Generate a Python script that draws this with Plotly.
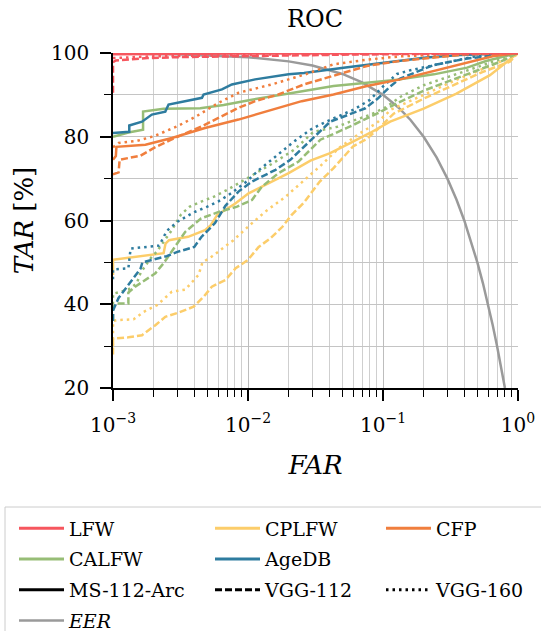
import plotly.graph_objects as go

# ---------------- data ----------------
# LFW
lfw_arc_far = [1e-3, 3e-3, 1e-2, 1]
lfw_arc_tar = [99.7, 99.8, 99.9, 100]
lfw_v112_far = [1e-3, 1e-3, 1.05e-3, 1.3e-3, 1.8e-3, 3e-3, 1e-2, 5e-2, 1]
lfw_v112_tar = [90.5, 97.8, 98.2, 98.5, 98.8, 99.0, 99.3, 99.6, 100]
lfw_v160_far = [1e-3, 2e-3, 5e-3, 2e-2, 1]
lfw_v160_tar = [98.8, 99.2, 99.4, 99.7, 100]

# CPLFW
cplfw_arc_far = [1e-3, 1e-3, 2.37e-3, 2.45e-3, 2.6e-3, 3.6e-3, 4.8e-3, 5.3e-3, 5.9e-3, 8.1e-3,
                 1.01e-2, 1.42e-2, 2.0e-2, 2.9e-2, 4.06e-2, 5.7e-2, 8.0e-2, 0.113, 0.2, 0.35, 0.62, 1]
cplfw_arc_tar = [47, 50.6, 52.2, 54.5, 55.3, 56.1, 57.7, 58.9, 61.3, 64.1,
                 66.5, 68.9, 71.3, 74.3, 76.1, 78.5, 80.9, 83.6, 86.7, 90.3, 94.7, 100]
cplfw_v112_far = [1e-3, 1e-3, 1.3e-3, 1.64e-3, 2.06e-3, 2.44e-3, 3.06e-3, 3.95e-3, 4.7e-3, 5.4e-3,
                  6.8e-3, 8.1e-3, 1.0e-2, 1.2e-2, 1.46e-2, 1.8e-2, 2.1e-2, 2.6e-2, 3.4e-2, 4.3e-2,
                  6.0e-2, 7.6e-2, 9.5e-2, 0.12, 0.2, 0.35, 0.55, 0.87, 1]
cplfw_v112_tar = [28, 31.8, 32.1, 32.6, 35.0, 37.0, 38.0, 39.4, 41.8, 44.2,
                  45.8, 48.6, 50.6, 53.7, 55.7, 58.5, 61.3, 64.3, 69.3, 72.5,
                  77.7, 79.5, 82.3, 85.5, 89.1, 92.7, 95.5, 97.9, 100]
cplfw_v160_far = [1e-3, 1e-3, 1.07e-3, 1.42e-3, 1.69e-3, 2.12e-3, 2.73e-3, 3.43e-3, 4.3e-3, 4.6e-3,
                  5.4e-3, 7.8e-3, 1.0e-2, 1.34e-2, 1.9e-2, 2.4e-2, 3.4e-2, 4.8e-2, 6.8e-2, 9e-2,
                  0.115, 0.2, 0.35, 0.53, 0.79, 1]
cplfw_v160_tar = [30, 36.0, 36.2, 36.4, 38.2, 39.8, 43.0, 43.5, 47.0, 50.0,
                  51.4, 55.3, 58.5, 62.1, 65.7, 68.5, 72.9, 77.5, 80.9, 83.3,
                  86.5, 90.0, 93.6, 96.0, 98.3, 100]

# CFP
cfp_arc_far = [1e-3, 1.05e-3, 1.06e-3, 1.74e-3, 2.73e-3, 4.8e-3, 8.5e-3, 1.5e-2, 2.5e-2,
               4.3e-2, 7.6e-2, 0.134, 0.238, 0.42, 0.66, 1]
cfp_arc_tar = [74.5, 75.4, 77.6, 78.1, 79.7, 82.1, 84.1, 86.5, 88.5,
               90.1, 92.1, 93.7, 95.7, 97.7, 99.3, 100]
cfp_v112_far = [1e-3, 1.1e-3, 1.12e-3, 1.6e-3, 2e-3, 2.7e-3, 4.56e-3, 5.7e-3, 8.5e-3, 1.13e-2,
                1.68e-2, 2.6e-2, 4.3e-2, 7.6e-2, 0.134, 0.238, 0.42, 1]
cfp_v112_tar = [71.0, 71.5, 74.5, 75.5, 77.3, 79.3, 82.5, 84.1, 86.9, 88.5,
                90.1, 92.5, 94.6, 96.9, 98.1, 98.9, 99.7, 100]
cfp_v160_far = [1e-3, 1.1e-3, 1.5e-3, 2e-3, 3e-3, 4.1e-3, 6.06e-3, 8.5e-3, 1.5e-2, 2.66e-2,
                4.3e-2, 7.6e-2, 0.134, 0.3, 1]
cfp_v160_tar = [77.5, 78.5, 79.0, 80.1, 82.5, 84.8, 88.1, 90.5, 92.5, 94.9,
                97.3, 98.4, 99.2, 99.7, 100]

# CALFW
calfw_arc_far = [1e-3, 1.3e-3, 1.67e-3, 1.67e-3, 2.37e-3, 4.43e-3, 6.6e-3, 1.04e-2, 2.06e-2,
                 4.3e-2, 7.6e-2, 0.134, 0.238, 0.42, 0.58, 1]
calfw_arc_tar = [80.0, 81.0, 81.7, 86.0, 86.7, 86.8, 87.6, 88.8, 90.4,
                 92.1, 92.9, 93.7, 94.9, 96.5, 98.1, 100]
calfw_v112_far = [1e-3, 1e-3, 1.1e-3, 1.3e-3, 1.3e-3, 1.46e-3, 2.06e-3, 2.37e-3, 3.43e-3, 4.5e-3,
                  6e-3, 8.3e-3, 1.07e-2, 1.27e-2, 1.68e-2, 2.37e-2, 3.44e-2, 5.4e-2, 9.0e-2, 0.127,
                  0.2, 0.35, 0.5, 0.75, 1]
calfw_v112_tar = [36, 39.5, 40.2, 40.2, 42.8, 44.2, 47.4, 49.8, 57.3, 60.5,
                  62.0, 63.3, 64.9, 68.1, 71.3, 74.1, 79.3, 82.1, 85.5, 88.0,
                  91.0, 94.0, 95.9, 98.0, 100]
calfw_v160_far = [1e-3, 1e-3, 1.3e-3, 1.5e-3, 1.6e-3, 1.9e-3, 2.1e-3, 2.4e-3, 2.7e-3, 3.2e-3,
                  3.7e-3, 4.5e-3, 5.6e-3, 7e-3, 9e-3, 1.13e-2, 1.5e-2, 2.2e-2, 3.06e-2, 4.6e-2,
                  5.7e-2, 8e-2, 0.107, 0.134, 0.2, 0.28, 0.4, 0.55, 1]
calfw_v160_tar = [40, 42.5, 43.5, 45, 47.5, 51, 52.5, 55, 57.5, 61.5,
                  63.3, 64.5, 65.7, 67.3, 69.3, 71.3, 73.5, 76.9, 81.2, 82.4,
                  83.6, 85.2, 87.2, 89.5, 92.3, 93.9, 95.5, 97.1, 100]

# AgeDB
agedb_arc_far = [1e-3, 1.32e-3, 1.32e-3, 1.64e-3, 1.94e-3, 2.44e-3, 2.58e-3, 4.56e-3, 4.69e-3,
                 6.41e-3, 7.6e-3, 1.13e-2, 2.0e-2, 2.6e-2, 5.1e-2, 0.101, 0.21, 0.37, 1]
agedb_arc_tar = [80.9, 81.2, 82.7, 83.6, 85.3, 86.0, 87.7, 89.3, 90.1,
                 91.3, 92.5, 93.7, 94.9, 95.2, 96.5, 97.7, 98.9, 99.5, 100]
agedb_v112_far = [1e-3, 1e-3, 1.1e-3, 1.4e-3, 1.6e-3, 1.65e-3, 2.5e-3, 3e-3, 4e-3, 4.5e-3,
                  5.7e-3, 6.8e-3, 8.5e-3, 1.07e-2, 1.6e-2, 2.06e-2, 3.06e-2, 4.06e-2, 7.4e-2, 9.2e-2,
                  0.113, 0.134, 0.236, 0.42, 1]
agedb_v112_tar = [36, 38.5, 41.5, 46, 48.5, 50, 51.5, 52.5, 53.7, 56,
                  59.4, 63.5, 66.9, 69.3, 72.1, 74.5, 79.7, 83.6, 86.8, 89.2,
                  92, 93.9, 97.1, 98.7, 100]
agedb_v160_far = [1e-3, 1e-3, 1.3e-3, 1.35e-3, 2.2e-3, 2.5e-3, 3e-3, 4e-3, 5e-3, 6e-3,
                  7.5e-3, 9.5e-3, 1.2e-2, 1.6e-2, 2.2e-2, 3e-2, 4.3e-2, 6e-2, 8e-2, 0.1,
                  0.127, 0.16, 0.21, 0.32, 0.5, 1]
agedb_v160_tar = [46, 48.3, 48.6, 53.3, 54.0, 57.5, 59.7, 62.0, 63.3, 64.5,
                  66.5, 69.0, 72.0, 75.3, 78.9, 82.0, 84.4, 86.4, 88.8, 92.0,
                  95.0, 95.9, 96.7, 97.9, 99.3, 100]

# EER line
eer_far = [1e-3, 3e-3, 1e-2, 2e-2, 3e-2, 5e-2, 7e-2, 0.1, 0.13, 0.16, 0.2, 0.25, 0.3, 0.35,
           0.4, 0.45, 0.5, 0.55, 0.6, 0.65, 0.7, 0.75, 0.8]
eer_tar = [99.9, 99.7, 99, 98, 97, 95, 93, 90, 87, 84, 80, 75, 70, 65,
           60, 55, 50, 45, 40, 35, 30, 25, 20]

datasets = ["LFW", "CPLFW", "CFP", "CALFW", "AgeDB"]
models = ["MS-112-Arc", "VGG-112", "VGG-160"]
x_ticks = [1e-3, 1e-2, 1e-1, 1]
x_ticktext = ["10<sup>−3</sup>", "10<sup>−2</sup>", "10<sup>−1</sup>", "10<sup>0</sup>"]
x_minor = [m * 10 ** e for e in (-3, -2, -1) for m in range(2, 10)]
y_ticks = [20, 40, 60, 80, 100]
y_minor = [30, 50, 70, 90]

# ---------------- styles ----------------
colors = {"LFW": "#f6565e", "CPLFW": "#fccd6a", "CFP": "#f07e3d",
          "CALFW": "#97bd76", "AgeDB": "#2e7c9f"}
dashes = {"MS-112-Arc": "solid", "VGG-112": "7px,3px", "VGG-160": "2.5px,4px"}
curves = {
    "LFW": [(lfw_arc_far, lfw_arc_tar), (lfw_v112_far, lfw_v112_tar), (lfw_v160_far, lfw_v160_tar)],
    "CPLFW": [(cplfw_arc_far, cplfw_arc_tar), (cplfw_v112_far, cplfw_v112_tar), (cplfw_v160_far, cplfw_v160_tar)],
    "CFP": [(cfp_arc_far, cfp_arc_tar), (cfp_v112_far, cfp_v112_tar), (cfp_v160_far, cfp_v160_tar)],
    "CALFW": [(calfw_arc_far, calfw_arc_tar), (calfw_v112_far, calfw_v112_tar), (calfw_v160_far, calfw_v160_tar)],
    "AgeDB": [(agedb_arc_far, agedb_arc_tar), (agedb_v112_far, agedb_v112_tar), (agedb_v160_far, agedb_v160_tar)],
}

FONT = "DejaVu Serif"
W, H = 541, 631
ML, MR, MT, MB = 113, 23, 53, 243
PW, PH = W - ML - MR, H - MT - MB

fig = go.Figure()

# EER first (drawn underneath), shown last in legend 1
fig.add_trace(go.Scatter(x=eer_far, y=eer_tar, mode="lines", name="<i>EER</i>",
                         line=dict(color="#9a9a9a", width=2.5), legend="legend",
                         legendgroup="g_eer", legendrank=2000, hoverinfo="skip"))

draw_order = ["CPLFW", "CALFW", "AgeDB", "CFP", "LFW"]
for ds in draw_order:
    for (fx, ty), m in zip(curves[ds], models):
        fig.add_trace(go.Scatter(x=fx, y=ty, mode="lines", showlegend=False,
                                 line=dict(color=colors[ds], width=2.5, dash=dashes[m]),
                                 hoverinfo="skip"))

def legend_entry(name, color, dash, legend, group):
    fig.add_trace(go.Scatter(x=[None], y=[None], mode="lines", name=name, legend=legend,
                             legendgroup=group,
                             line=dict(color=color, width=3, dash=dash), showlegend=True))

# column 1
legend_entry("LFW", colors["LFW"], "solid", "legend", "g1")
legend_entry("CALFW", colors["CALFW"], "solid", "legend", "g2")
legend_entry("MS-112-Arc", "black", "solid", "legend", "g3")
# column 2
legend_entry("CPLFW", colors["CPLFW"], "solid", "legend2", "g4")
legend_entry("AgeDB", colors["AgeDB"], "solid", "legend2", "g5")
legend_entry("VGG-112", "black", dashes["VGG-112"], "legend2", "g6")
# column 3
legend_entry("CFP", colors["CFP"], "solid", "legend3", "g7")
legend_entry(" ", "rgba(0,0,0,0)", "solid", "legend3", "g8")
legend_entry("VGG-160", "black", dashes["VGG-160"], "legend3", "g9")

def px_x(p):
    return (p - ML) / PW

def px_y(p):
    return (H - MB - p) / PH

IW = 45
leg_common = dict(font=dict(family=FONT, size=19, color="black"), bgcolor="rgba(0,0,0,0)",
                  borderwidth=0, orientation="v", xanchor="left", yanchor="top",
                  itemwidth=IW, tracegroupgap=3, groupclick="toggleitem")
legtop = 509.5

fig.update_layout(
    width=W, height=H,
    margin=dict(l=ML, r=MR, t=MT, b=MB, autoexpand=False),
    paper_bgcolor="white", plot_bgcolor="white",
    font=dict(family=FONT, color="black"),
    title=dict(text="ROC", xref="container", x=315 / W, xanchor="center",
               y=1 - 19 / H, yanchor="middle",
               font=dict(family=FONT, size=24, color="black")),
    legend=dict(x=px_x(69 - IW - 10), y=px_y(legtop), **leg_common),
    legend2=dict(x=px_x(265 - IW - 10), y=px_y(legtop), **leg_common),
    legend3=dict(x=px_x(436 - IW - 10), y=px_y(legtop), **leg_common),
    shapes=[dict(type="rect", xref="paper", yref="paper", x0=px_x(5), x1=px_x(560),
                 y0=px_y(650), y1=px_y(507), line=dict(color="#cccccc", width=1),
                 fillcolor="rgba(0,0,0,0)", layer="below")],
)

fig.update_xaxes(
    type="log", range=[-3, 0], tickmode="array", tickvals=x_ticks, ticktext=x_ticktext,
    ticks="outside", ticklen=11, tickwidth=2, tickcolor="black", ticklabelstandoff=7,
    showline=True, linecolor="black", linewidth=1.5, mirror=False,
    showgrid=True, gridcolor="#bdbdbd", gridwidth=1.3, zeroline=False,
    tickfont=dict(family=FONT, size=20, color="black"),
    minor=dict(tickmode="array", tickvals=x_minor, ticks="outside", ticklen=7, tickwidth=1.3,
               tickcolor="black", showgrid=True, gridcolor="#cfcfcf", gridwidth=1.2),
    title=dict(text="<i>FAR</i>", font=dict(family=FONT, size=26, color="black"), standoff=20),
)
fig.update_yaxes(
    range=[20, 100], tickmode="array", tickvals=y_ticks,
    ticks="outside", ticklen=11, tickwidth=2, tickcolor="black", ticklabelstandoff=7,
    showline=True, linecolor="black", linewidth=1.5, mirror=False,
    showgrid=True, gridcolor="#c4c4c4", gridwidth=1.3, zeroline=False,
    tickfont=dict(family=FONT, size=20, color="black"),
    minor=dict(tickmode="array", tickvals=y_minor, ticks="outside", ticklen=7, tickwidth=1.3,
               tickcolor="black", showgrid=True, gridcolor="#c4c4c4", gridwidth=1.3),
    title=dict(text="<i>TAR</i> [%]", font=dict(family=FONT, size=26, color="black"), standoff=10),
)

fig.write_html("out.html", config={"displayModeBar": False},
               post_script="document.body.style.margin='0';")
